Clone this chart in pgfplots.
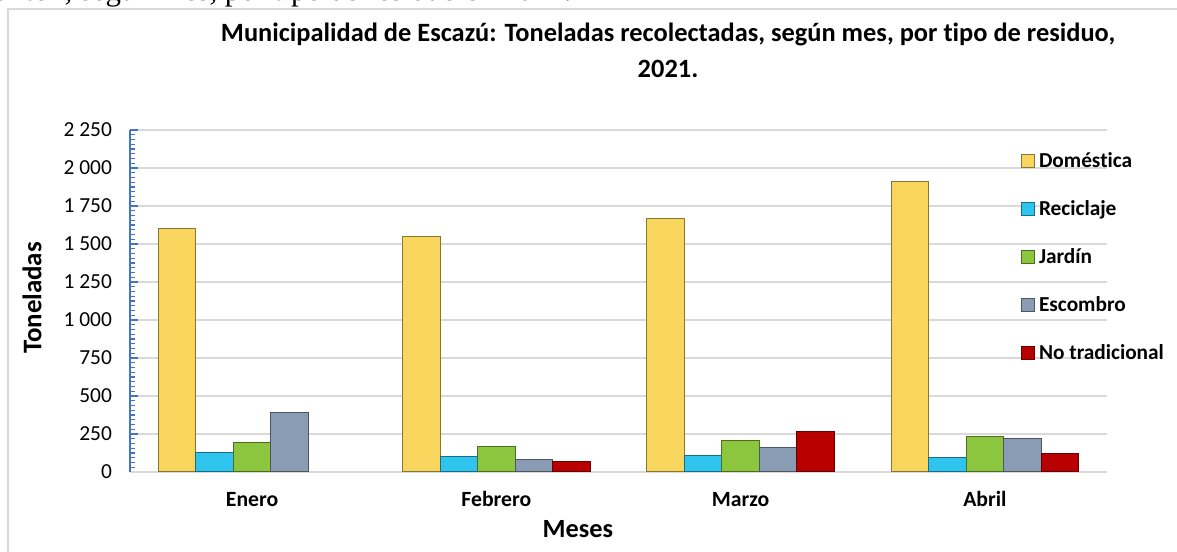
\documentclass[border=0pt]{standalone}
\usepackage{pgfplots}
\pgfplotsset{compat=1.18}
\usepackage{fontspec}
\setmainfont{Carlito}[Ligatures=NoCommon]
\newfontfamily\toptextfont{Liberation Serif}
\definecolor{cdom}{HTML}{F8D65E}
\definecolor{crec}{HTML}{2EC4EE}
\definecolor{cjar}{HTML}{8CC63F}
\definecolor{cesc}{HTML}{8A9CB4}
\definecolor{cnot}{HTML}{B80000}
\definecolor{cgrid}{HTML}{D9D9D9}
\definecolor{caxis}{HTML}{4472C4}
\tikzset{bevel/.style={fill=#1, draw=#1!55!black, line width=1bp}}
\pgfplotsset{sqlegend/.style={legend image code/.code={\draw[##1] (0bp,-6.5bp) rectangle (13bp,6.5bp);}}}
\begin{document}
\begin{tikzpicture}
\useasboundingbox (0bp,0bp) rectangle (1177bp,552bp);
\draw[cgrid, line width=1.5bp] (8bp,-5bp) -- (8bp,543bp) -- (1185bp,543bp);
\begin{scope}
\clip (0bp,544bp) rectangle (1177bp,552bp);
\node[anchor=base west, inner sep=0pt, font=\toptextfont\fontsize{31}{34}\selectfont] at (-18bp,551bp) {cantón, según mes, por tipo de residuo en 2021.};
\end{scope}
\begin{axis}[
  at={(130bp,80bp)}, anchor=south west,
  scale only axis, width=977bp, height=342bp,
  xmin=-0.5, xmax=3.5, ymin=0, ymax=2250,
  ybar=0pt, bar width=37.5bp,
  xtick={0,1,2,3}, xticklabels={Enero,Febrero,Marzo,Abril},
  ytick={0,250,...,2250}, minor y tick num=7,
  axis x line*=bottom, axis y line*=left,
  axis line style={-},
  x axis line style={draw=cgrid, line width=1.5bp},
  y axis line style={draw=caxis, line width=1.5bp},
  xtick style={draw=none},
  ytick style={draw=caxis, line width=1.2bp},
  tick align=inside, major tick length=7.5bp, minor tick length=5bp,
  ymajorgrids, major grid style={draw=cgrid, line width=1.5bp},
  /pgf/number format/1000 sep={\ },
  /pgf/number format/assume math mode=true,
  yticklabel style={font=\fontsize{21.5}{24}\selectfont, xshift=-14.6bp},
  xticklabel style={font=\bfseries\fontsize{21.8}{24}\selectfont, text height=15bp, text depth=4bp, inner sep=0pt, yshift=-19.7bp},
  xlabel={Meses},
  xlabel style={at={(axis description cs:0.4585,-0.191)}, anchor=base, inner sep=0pt, font=\bfseries\fontsize{26.4}{30}\selectfont},
  ylabel={Toneladas},
  ylabel style={at={(axis description cs:-0.1003,0.509)}, anchor=center, inner sep=0pt, font=\bfseries\fontsize{27}{30}\selectfont},
  title={Municipalidad de Escazú: Toneladas recolectadas, según mes, por tipo de residuo,\\ 2021.},
  title style={at={(axis description cs:0.5507,1.295)}, anchor=north, align=center, inner sep=0pt, font=\bfseries\fontsize{26.5}{36}\selectfont},
  legend style={at={(axis description cs:0.912,0.9342)}, anchor=north west, draw=none, fill=none, inner sep=0pt, outer sep=0pt, row sep=31bp, column sep=4bp, font=\bfseries\fontsize{21.4}{24}\selectfont, nodes={inner sep=0pt, text height=15bp, text depth=2bp}},
  legend cell align=left,
]
\addplot[bevel=cdom, sqlegend] coordinates {(0,1603) (1,1551) (2,1669) (3,1914)};
\addlegendentry{Doméstica}
\addplot[bevel=crec, sqlegend] coordinates {(0,125) (1,103) (2,107) (3,96)};
\addlegendentry{Reciclaje}
\addplot[bevel=cjar, sqlegend] coordinates {(0,195) (1,168) (2,206) (3,234)};
\addlegendentry{Jardín}
\addplot[bevel=cesc, sqlegend] coordinates {(0,394) (1,79) (2,158) (3,221)};
\addlegendentry{Escombro}
\addplot[bevel=cnot, sqlegend] coordinates {(1,70) (2,269) (3,120)};
\addlegendentry{No tradicional}
\end{axis}
\end{tikzpicture}
\end{document}
